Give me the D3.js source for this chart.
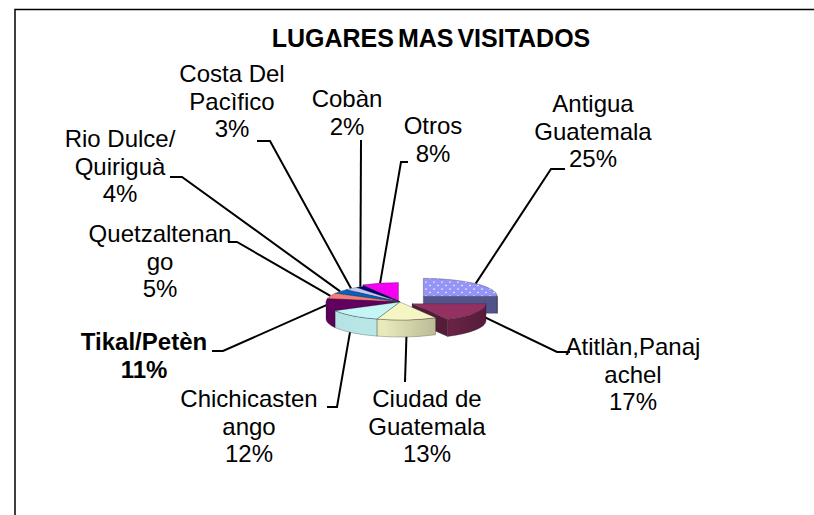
<!DOCTYPE html>
<html>
<head>
<meta charset="utf-8">
<script src="https://cdn.jsdelivr.net/npm/d3@7"></script>
<style>
  html, body { margin: 0; padding: 0; background: #fff; }
  svg { display: block; }
  text { font-family: "Liberation Sans", Arial, sans-serif; }
</style>
</head>
<body>
<svg id="chart" width="814" height="515"></svg>
<script>
// ---- data ----
const title = "LUGARES MAS VISITADOS";
const categories = ["Antigua Guatemala", "Atitlàn,Panajachel", "Ciudad de Guatemala", "Chichicastenango",
  "Tikal/Petèn", "Quetzaltenango", "Rio Dulce/ Quiriguà", "Costa Del Pacìfico", "Cobàn", "Otros"];
const values = [25, 17, 13, 12, 11, 5, 4, 3, 2, 8];
const nameLines = [["Antigua", "Guatemala"], ["Atitlàn,Panaj", "achel"], ["Ciudad de", "Guatemala"],
  ["Chichicasten", "ango"], ["Tikal/Petèn"], ["Quetzaltenan", "go"], ["Rio Dulce/", "Quiriguà"],
  ["Costa Del", "Pacìfico"], ["Cobàn"], ["Otros"]];
const explode = [33, 14, 0, 0, 0, 0, 0, 0, 0, 6];
const colors = ["#9999FF", "#993366", "#FFFFCC", "#CCFFFF", "#660066", "#FF8080", "#0066CC", "#CCCCFF", "#000080", "#FF00FF"];

// ---- layout ----
const W = 814, H = 515;
const cx = 400, cy = 302, rx = 74, ry = 18, depth = 17;
const lineH = 27.5;
const labelLayout = [
  { x: 593, y: 112, hook: [[565, 169], [551, 169]] },
  { x: 633, y: 355, hook: [[570, 352], [557, 352]] },
  { x: 427, y: 407, hook: [[405, 382]] },
  { x: 249, y: 407, hook: [[327, 407], [337, 407]] },
  { x: 144, y: 350, hook: [[212, 351], [223, 351]], bold: true },
  { x: 160, y: 242, hook: [[228, 242], [237, 242]] },
  { x: 120, y: 147, hook: [[170, 177], [182, 177]] },
  { x: 232, y: 82, hook: [[257, 141], [270, 141]] },
  { x: 347, y: 107, hook: [[361, 140]] },
  { x: 433, y: 134, hook: [[408, 162], [401, 162]] }
];

const svg = d3.select("#chart");
svg.append("rect").attr("width", W).attr("height", H).attr("fill", "#fff");

const defs = svg.append("defs");
const pat = defs.append("pattern").attr("id", "dots").attr("patternUnits", "userSpaceOnUse")
  .attr("width", 8).attr("height", 7);
pat.append("rect").attr("width", 8).attr("height", 7).attr("fill", d3.color(colors[0]).darker(0.08));
pat.append("circle").attr("cx", 2).attr("cy", 2).attr("r", 0.8).attr("fill", "#fff");
pat.append("circle").attr("cx", 6).attr("cy", 5.5).attr("r", 0.8).attr("fill", "#fff");

// frame
svg.append("path").attr("d", `M15,${H} V9.5 H${W}`).attr("fill", "none")
  .attr("stroke", "#000").attr("stroke-width", 1.5);

// title
svg.append("text").attr("x", 431).attr("y", 47).attr("text-anchor", "middle")
  .attr("font-size", 25).attr("font-weight", "bold").attr("word-spacing", -3).text(title);

// pie angles
const arcs = d3.pie().sort(null).startAngle(0).endAngle(2 * Math.PI).value(d => d)(values);
const k = ry / rx;
arcs.forEach((a, i) => {
  const mid = (a.startAngle + a.endAngle) / 2;
  a.mid = mid;
  a.dx = explode[i] * Math.sin(mid);
  a.dy = -explode[i] * Math.cos(mid) * k;
  a.i = i;
});
const P = (ang, a, dz = 0) => [cx + a.dx + rx * Math.sin(ang), cy + a.dy - ry * Math.cos(ang) + dz];
const C = (a, dz = 0) => [cx + a.dx, cy + a.dy + dz];

// leader lines (under the pie)
arcs.forEach((a, i) => {
  const pts = labelLayout[i].hook.concat([P(a.mid, a)]);
  svg.append("path").attr("d", d3.line()(pts)).attr("fill", "none")
    .attr("stroke", "#000").attr("stroke-width", 2);
});

// side gradients
arcs.forEach((a, i) => {
  const g = defs.append("linearGradient").attr("id", "side" + i).attr("gradientUnits", "userSpaceOnUse")
    .attr("x1", cx - rx).attr("x2", cx + rx + 20).attr("y1", 0).attr("y2", 0);
  const base = d3.color(colors[i]);
  g.append("stop").attr("offset", 0).attr("stop-color", base.darker(0.35));
  g.append("stop").attr("offset", 0.35).attr("stop-color", base.darker(0.25));
  g.append("stop").attr("offset", 1).attr("stop-color", base.darker(1.8));
});

const pieG = svg.append("g");
const order = arcs.slice().sort((p, q) => Math.cos(q.mid) - Math.cos(p.mid));
const strokeC = "rgba(30,30,30,0.55)";
order.forEach(a => {
  const i = a.i;
  const base = d3.color(colors[i]);
  const g = pieG.append("g");
  const a0 = a.startAngle, a1 = a.endAngle;
  const radial = ang => {
    const c0 = C(a), p0 = P(ang, a), p1 = P(ang, a, depth), c1 = C(a, depth);
    g.append("path").attr("d", `M${c0}L${p0}L${p1}L${c1}Z`)
      .attr("fill", base.darker(1.7)).attr("stroke", strokeC).attr("stroke-width", 0.5);
  };
  if (Math.sin(a0) < -1e-6) radial(a0);
  if (Math.sin(a1) > 1e-6) radial(a1);
  const s = Math.max(a0, Math.PI / 2), e = Math.min(a1, 3 * Math.PI / 2);
  if (s < e) {
    const lg = (e - s) > Math.PI ? 1 : 0;
    g.append("path")
      .attr("d", `M${P(s, a)}A${rx},${ry} 0 ${lg} 1 ${P(e, a)}L${P(e, a, depth)}A${rx},${ry} 0 ${lg} 0 ${P(s, a, depth)}Z`)
      .attr("fill", `url(#side${i})`).attr("stroke", strokeC).attr("stroke-width", 0.5);
  }
  const lgT = (a1 - a0) > Math.PI ? 1 : 0;
  g.append("path")
    .attr("d", `M${C(a)}L${P(a0, a)}A${rx},${ry} 0 ${lgT} 1 ${P(a1, a)}Z`)
    .attr("fill", i === 0 ? "url(#dots)" : base.darker(0.1))
    .attr("stroke", strokeC).attr("stroke-width", 0.5);
});

// labels
arcs.forEach((a, i) => {
  const L = labelLayout[i];
  const lines = nameLines[i].concat([values[i] + "%"]);
  const t = svg.append("text").attr("text-anchor", "middle").attr("font-size", 24)
    .attr("font-weight", L.bold ? "bold" : "normal").attr("fill", "#000");
  lines.forEach((ln, j) => {
    t.append("tspan").attr("x", L.x).attr("y", L.y + j * lineH).text(ln);
  });
});
</script>
</body>
</html>
